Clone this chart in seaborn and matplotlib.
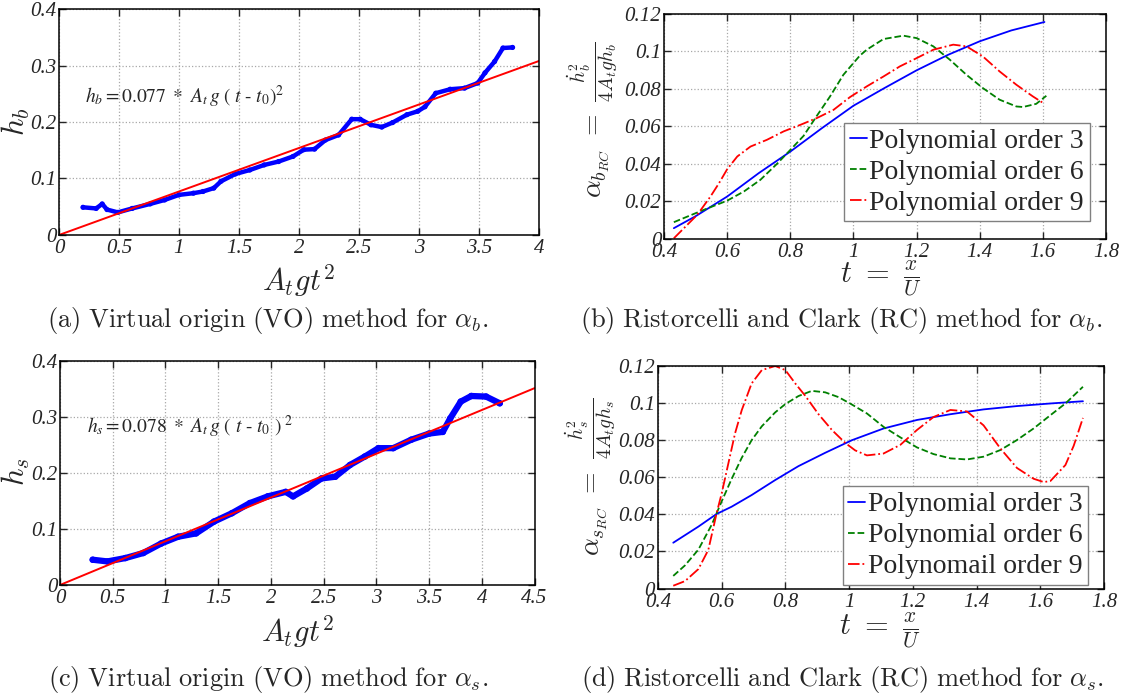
import numpy as np
import pandas as pd
import seaborn as sns
import matplotlib
matplotlib.use('Agg')
import matplotlib.pyplot as plt

vo_b_x = [0.20, 0.31, 0.36, 0.40, 0.49, 0.61, 0.76, 0.88, 1.00, 1.12, 1.20, 1.29, 1.35, 1.47,
          1.59, 1.71, 1.83, 1.95, 2.04, 2.13, 2.22, 2.33, 2.44, 2.51, 2.60, 2.69, 2.78, 2.90,
          2.99, 3.05, 3.14, 3.26, 3.38, 3.49, 3.55, 3.63, 3.70, 3.78]
vo_b_y = [0.049, 0.047, 0.055, 0.045, 0.040, 0.047, 0.055, 0.062, 0.071, 0.074, 0.077, 0.083,
          0.095, 0.108, 0.115, 0.124, 0.130, 0.139, 0.151, 0.152, 0.168, 0.177, 0.205, 0.205,
          0.195, 0.191, 0.199, 0.213, 0.219, 0.227, 0.251, 0.258, 0.260, 0.269, 0.287, 0.307,
          0.331, 0.332]
fit_b_x = [0, 4]
fit_b_y = [0, 0.308]

# (c) h_s versus A_t g t^2
vo_s_x = [0.31, 0.45, 0.62, 0.79, 0.96, 1.12, 1.29, 1.46, 1.63, 1.80, 1.97, 2.14, 2.21, 2.34,
          2.48, 2.61, 2.75, 2.89, 3.02, 3.16, 3.33, 3.50, 3.63, 3.70, 3.80, 3.90, 4.04, 4.17]
vo_s_y = [0.045, 0.042, 0.048, 0.057, 0.074, 0.086, 0.092, 0.113, 0.128, 0.146, 0.158, 0.166,
          0.158, 0.172, 0.190, 0.193, 0.214, 0.229, 0.244, 0.244, 0.259, 0.270, 0.273, 0.297,
          0.327, 0.337, 0.336, 0.324]
fit_s_x = [0, 4.5]
fit_s_y = [0, 0.351]

# (b) RC method for alpha_b
rcb3_t = [0.431, 0.5, 0.6, 0.7, 0.8, 0.9, 1.0, 1.1, 1.2, 1.3, 1.4, 1.5, 1.605]
rcb3_y = [0.0056, 0.012, 0.0225, 0.035, 0.0465, 0.059, 0.071, 0.0806, 0.0899, 0.0982, 0.1054,
          0.1112, 0.1157]
rcb6_t = [0.431, 0.474, 0.52, 0.6, 0.653, 0.705, 0.758, 0.8, 0.842, 0.884, 0.926, 0.968, 1.02,
          1.042, 1.095, 1.158, 1.2, 1.253, 1.305, 1.358, 1.41, 1.463, 1.516, 1.537, 1.579, 1.611]
rcb6_y = [0.0088, 0.0118, 0.015, 0.0203, 0.0252, 0.0314, 0.040, 0.0474, 0.0549, 0.0656, 0.076,
          0.0875, 0.0977, 0.1009, 0.1066, 0.1084, 0.1071, 0.1027, 0.0956, 0.0875, 0.0804, 0.0742,
          0.0706, 0.0703, 0.072, 0.0763]
rcb9_t = [0.431, 0.463, 0.505, 0.547, 0.574, 0.6, 0.632, 0.674, 0.726, 0.779, 0.832, 0.884, 0.937,
          0.989, 1.042, 1.095, 1.147, 1.2, 1.253, 1.316, 1.358, 1.41, 1.463, 1.516, 1.568, 1.605]
rcb9_y = [0.0002, 0.0056, 0.0127, 0.0225, 0.0296, 0.0371, 0.0439, 0.0492, 0.0528, 0.0573, 0.0608,
          0.0644, 0.0688, 0.0756, 0.0813, 0.0866, 0.092, 0.0964, 0.1009, 0.1036, 0.1027, 0.0973,
          0.0893, 0.0822, 0.076, 0.072]

# (d) RC method for alpha_s
rcs3_t = [0.448, 0.527, 0.584, 0.631, 0.694, 0.768, 0.841, 0.925, 1.009, 1.108, 1.213, 1.318,
          1.422, 1.527, 1.632, 1.734]
rcs3_y = [0.0247, 0.0334, 0.0402, 0.0441, 0.0504, 0.0585, 0.066, 0.0732, 0.08, 0.0863, 0.0909,
          0.094, 0.0966, 0.0984, 0.0998, 0.101]
rcs6_t = [0.448, 0.485, 0.527, 0.569, 0.6, 0.631, 0.663, 0.694, 0.726, 0.768, 0.8, 0.841, 0.883,
          0.925, 0.967, 1.003, 1.056, 1.108, 1.161, 1.213, 1.265, 1.318, 1.37, 1.422, 1.475, 1.527,
          1.579, 1.632, 1.679, 1.734]
rcs6_y = [0.0068, 0.0125, 0.021, 0.0345, 0.047, 0.059, 0.0705, 0.080, 0.0875, 0.095, 0.0995,
          0.1038, 0.1066, 0.1058, 0.1032, 0.0998, 0.0944, 0.0872, 0.0815, 0.0761, 0.0725, 0.0702,
          0.0696, 0.0711, 0.0747, 0.0801, 0.0863, 0.0935, 0.0998, 0.1088]
rcs9_t = [0.448, 0.485, 0.527, 0.558, 0.584, 0.6, 0.621, 0.642, 0.663, 0.694, 0.726, 0.768, 0.8,
          0.831, 0.862, 0.904, 0.946, 0.988, 1.019, 1.056, 1.108, 1.161, 1.213, 1.265, 1.318,
          1.37, 1.422, 1.475, 1.527, 1.579, 1.611, 1.632, 1.679, 1.705, 1.734]
rcs9_y = [0.0015, 0.004, 0.0105, 0.0208, 0.0405, 0.0513, 0.0675, 0.0837, 0.0962, 0.1106, 0.1178,
          0.12, 0.1178, 0.1106, 0.104, 0.094, 0.0855, 0.0785, 0.0745, 0.0718, 0.0728, 0.0775,
          0.0855, 0.0925, 0.0963, 0.0955, 0.088, 0.0755, 0.065, 0.0592, 0.0574, 0.058, 0.0666,
          0.077, 0.092]

labels_b = ['Polynomial order 3', 'Polynomial order 6', 'Polynomial order 9']
labels_s = ['Polynomial order 3', 'Polynomial order 6', 'Polynomail order 9']

sns.set_style('ticks')
plt.rcParams['font.family'] = ['Liberation Serif', 'DejaVu Serif']
plt.rcParams['mathtext.fontset'] = 'cm'

fig = plt.figure(figsize=(11.28, 6.94), dpi=100)
ax_a = fig.add_axes([0.0523, 0.6614, 0.4255, 0.3256])
ax_b = fig.add_axes([0.5887, 0.6561, 0.3918, 0.3238])
ax_c = fig.add_axes([0.0532, 0.1571, 0.4207, 0.3232])
ax_d = fig.add_axes([0.5833, 0.1520, 0.3954, 0.3206])


def style_axes(ax, xticks, xlabels, yticks, ylabels):
    ax.set_xlim(xticks[0], xticks[-1])
    ax.set_ylim(yticks[0], yticks[-1])
    ax.set_xticks(xticks)
    ax.set_xticklabels(xlabels, fontstyle='italic', fontsize=15)
    ax.set_yticks(yticks)
    ax.set_yticklabels(ylabels, fontstyle='italic', fontsize=15)
    ax.tick_params(direction='in', top=True, right=True, length=5, width=1, pad=3)
    ax.tick_params(axis='y', pad=2)
    ax.grid(True, linestyle=':', color='#a8a8a8', linewidth=0.9)
    ax.set_axisbelow(True)
    for sp in ax.spines.values():
        sp.set_linewidth(1.1)
        sp.set_color('black')


# (a)
sns.lineplot(x=vo_b_x, y=vo_b_y, ax=ax_a, color='#0000ff', linewidth=3.2,
             estimator=None, sort=False, legend=False)
sns.scatterplot(x=vo_b_x, y=vo_b_y, ax=ax_a, color='#0000ff', s=14, edgecolor='none', legend=False)
sns.lineplot(x=fit_b_x, y=fit_b_y, ax=ax_a, color='#ff0000', linewidth=1.4, estimator=None)
style_axes(ax_a, [0, 0.5, 1, 1.5, 2, 2.5, 3, 3.5, 4],
           ['0', '0.5', '1', '1.5', '2', '2.5', '3', '3.5', '4'],
           [0, 0.1, 0.2, 0.3, 0.4], ['0', '0.1', '0.2', '0.3', '0.4'])
ax_a.text(0.22, 0.244, r'$h_b = 0.077\ *\ A_t\, g\ (\ t\ \text{-}\ t_0)^2$', fontsize=14,
          va='center', ha='left', math_fontfamily='stix')
ax_a.set_xlabel(r'$A_tgt^2$', fontsize=22, va='top')
ax_a.set_ylabel(r'$h_b$', fontsize=22)
ax_a.xaxis.set_label_coords(0.5, -0.12)
ax_a.yaxis.set_label_coords(-0.056, 0.5)

# (c)
sns.lineplot(x=vo_s_x, y=vo_s_y, ax=ax_c, color='#0000ff', linewidth=4.5,
             estimator=None, sort=False, legend=False)
sns.scatterplot(x=vo_s_x, y=vo_s_y, ax=ax_c, color='#0000ff', s=22, edgecolor='none', legend=False)
sns.lineplot(x=fit_s_x, y=fit_s_y, ax=ax_c, color='#ff0000', linewidth=1.4, estimator=None)
style_axes(ax_c, [0, 0.5, 1, 1.5, 2, 2.5, 3, 3.5, 4, 4.5],
           ['0', '0.5', '1', '1.5', '2', '2.5', '3', '3.5', '4', '4.5'],
           [0, 0.1, 0.2, 0.3, 0.4], ['0', '0.1', '0.2', '0.3', '0.4'])
ax_c.text(0.26, 0.282, r'$h_s = 0.078\ *\ A_t\, g\ (\ t\ \text{-}\ t_0\ )^{\ 2}$', fontsize=14,
          va='center', ha='left', math_fontfamily='stix')
ax_c.set_xlabel(r'$A_tgt^2$', fontsize=22, va='top')
ax_c.set_ylabel(r'$h_s$', fontsize=22)
ax_c.xaxis.set_label_coords(0.5, -0.125)
ax_c.yaxis.set_label_coords(-0.06, 0.505)

rc_xticks = [0.4, 0.6, 0.8, 1.0, 1.2, 1.4, 1.6, 1.8]
rc_xlabels = ['0.4', '0.6', '0.8', '1', '1.2', '1.4', '1.6', '1.8']
rc_yticks = [0, 0.02, 0.04, 0.06, 0.08, 0.1, 0.12]
rc_ylabels = ['0', '0.02', '0.04', '0.06', '0.08', '0.1', '0.12']


def rc_panel(ax, series, labels, ylab, ylab_pos, xlab_pos, leg_anchor):
    styles = [('#0000ff', '-'), ('#008000', '--'), ('#ff0000', '-.')]
    for (t, y), lab, (col, ls) in zip(series, labels, styles):
        sns.lineplot(x=t, y=y, ax=ax, color=col, linestyle=ls, linewidth=1.3,
                     estimator=None, sort=False, label=lab)
    style_axes(ax, rc_xticks, rc_xlabels, rc_yticks, rc_ylabels)
    ax.set_xlabel(r'$t\ =\ \frac{x}{U}$', fontsize=22, va='top')
    ax.set_ylabel(ylab, fontsize=20)
    ax.xaxis.set_label_coords(*xlab_pos)
    ax.yaxis.set_label_coords(*ylab_pos)
    leg = ax.legend(loc='lower right', bbox_to_anchor=leg_anchor, fontsize=20,
                    frameon=True, fancybox=False, framealpha=1, edgecolor='#808080',
                    borderpad=0.2, labelspacing=0.2, handlelength=0.6, handletextpad=0.1,
                    borderaxespad=0)
    leg.get_frame().set_linewidth(1.0)


rc_panel(ax_b, [(rcb3_t, rcb3_y), (rcb6_t, rcb6_y), (rcb9_t, rcb9_y)], labels_b,
         r'$\alpha_{b_{RC}}\ =\ \frac{\dot{h}_b^2}{4A_tgh_b}$', (-0.1, 0.528), (0.49, -0.095),
         (0.963, 0.077))
rc_panel(ax_d, [(rcs3_t, rcs3_y), (rcs6_t, rcs6_y), (rcs9_t, rcs9_y)], labels_s,
         r'$\alpha_{s_{RC}}\ =\ \frac{\dot{h}_s^2}{4A_tgh_s}$', (-0.09, 0.5), (0.497, -0.104),
         (0.964, 0.016))

# captions
fig.text(0.2376, 0.5375, r'$\mathrm{(a)\ Virtual\ origin\ (VO)\ method\ for\ }\alpha_b\mathrm{.}$',
         fontsize=19, ha='center', va='center')
fig.text(0.746, 0.5375, r'$\mathrm{(b)\ Ristorcelli\ and\ Clark\ (RC)\ method\ for\ }\alpha_b\mathrm{.}$',
         fontsize=19, ha='center', va='center')
fig.text(0.2376, 0.0202, r'$\mathrm{(c)\ Virtual\ origin\ (VO)\ method\ for\ }\alpha_s\mathrm{.}$',
         fontsize=19, ha='center', va='center')
fig.text(0.747, 0.0202, r'$\mathrm{(d)\ Ristorcelli\ and\ Clark\ (RC)\ method\ for\ }\alpha_s\mathrm{.}$',
         fontsize=19, ha='center', va='center')

fig.savefig('out.png', dpi=100)
